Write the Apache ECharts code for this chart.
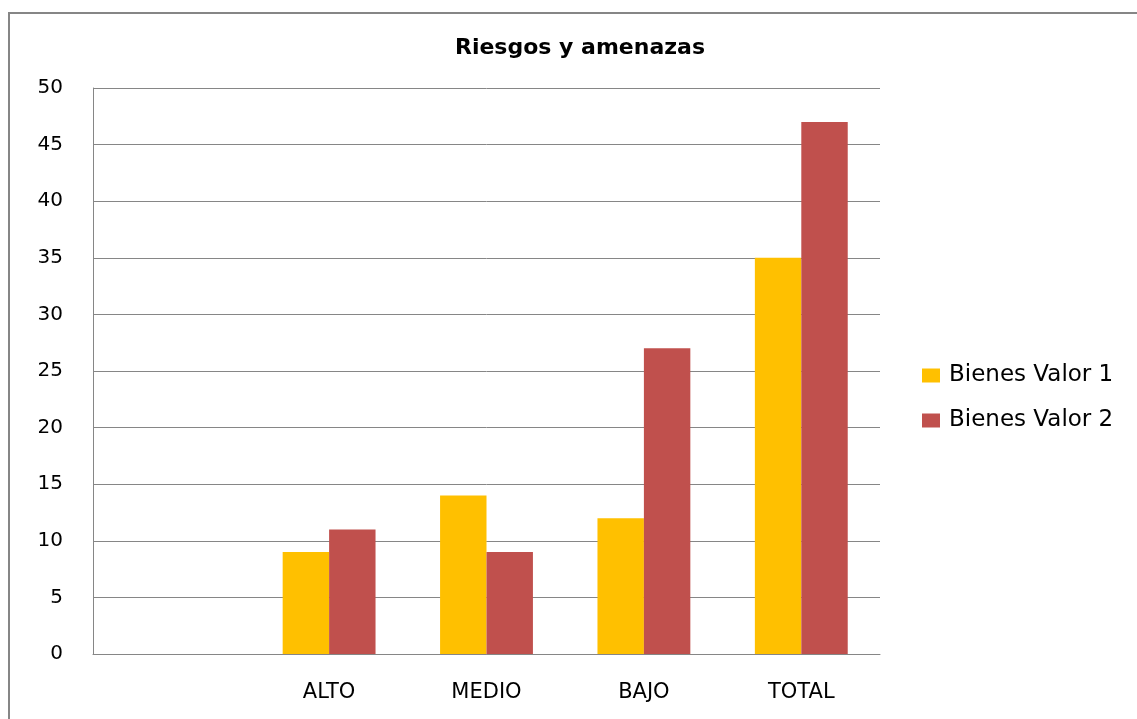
<!DOCTYPE html>
<html>
<head>
<meta charset="utf-8">
<script src="https://cdn.jsdelivr.net/npm/echarts@6/dist/echarts.min.js"></script>
<style>
  html, body { margin: 0; padding: 0; background: #fff; }
  #chart { width: 1137px; height: 719px; }
</style>
</head>
<body>
<div id="chart"></div>
<script>
// Categories (the first slot is intentionally left blank)
const categories = ['', 'ALTO', 'MEDIO', 'BAJO', 'TOTAL'];
const seriesNames = ['Bienes Valor 1', 'Bienes Valor 2'];
const valor1 = [null, 9, 14, 12, 35];
const valor2 = [null, 11, 9, 27, 47];
const yTicks = [0, 5, 10, 15, 20, 25, 30, 35, 40, 45, 50];

const chart = echarts.init(document.getElementById('chart'));
const labelFont = 'DejaVu Sans';

chart.setOption({
  animation: false,
  backgroundColor: '#ffffff',
  title: {
    text: 'Riesgos y amenazas',
    left: 575,
    top: 32,
    textAlign: 'center',
    textStyle: { fontFamily: 'DejaVu Sans', fontWeight: 'bold', fontSize: 22, color: '#000' }
  },
  graphic: [{
    type: 'rect',
    shape: { x: 9, y: 13, width: 1200, height: 800 },
    style: { fill: 'none', stroke: '#868686', lineWidth: 2 },
    silent: true
  }],
  legend: {
    orient: 'vertical',
    left: 917,
    top: 359,
    itemWidth: 18,
    itemHeight: 14,
    itemGap: 22,
    icon: 'rect',
    textStyle: { fontFamily: labelFont, fontSize: 23, color: '#000', padding: [0, 0, 0, 4] },
    data: seriesNames
  },
  grid: { left: 93, right: 257, top: 88, bottom: 65, containLabel: false },
  xAxis: {
    type: 'category',
    data: categories,
    axisLine: { show: true, lineStyle: { color: '#868686', width: 1 } },
    axisTick: { show: false },
    axisLabel: { fontFamily: labelFont, fontSize: 21, color: '#000', margin: 28 }
  },
  yAxis: {
    type: 'value',
    min: yTicks[0],
    max: yTicks[yTicks.length - 1],
    interval: 5,
    axisLine: { show: true, lineStyle: { color: '#868686', width: 1 } },
    axisTick: { show: false },
    splitLine: { show: true, lineStyle: { color: '#868686', width: 1 } },
    axisLabel: { fontFamily: labelFont, fontSize: 20, color: '#000', margin: 30 }
  },
  series: [
    {
      name: seriesNames[0],
      type: 'bar',
      data: valor1,
      barGap: '0%',
      barCategoryGap: '41%',
      itemStyle: { color: '#FFC000' }
    },
    {
      name: seriesNames[1],
      type: 'bar',
      data: valor2,
      itemStyle: { color: '#C0504D' }
    }
  ]
});
</script>
</body>
</html>
